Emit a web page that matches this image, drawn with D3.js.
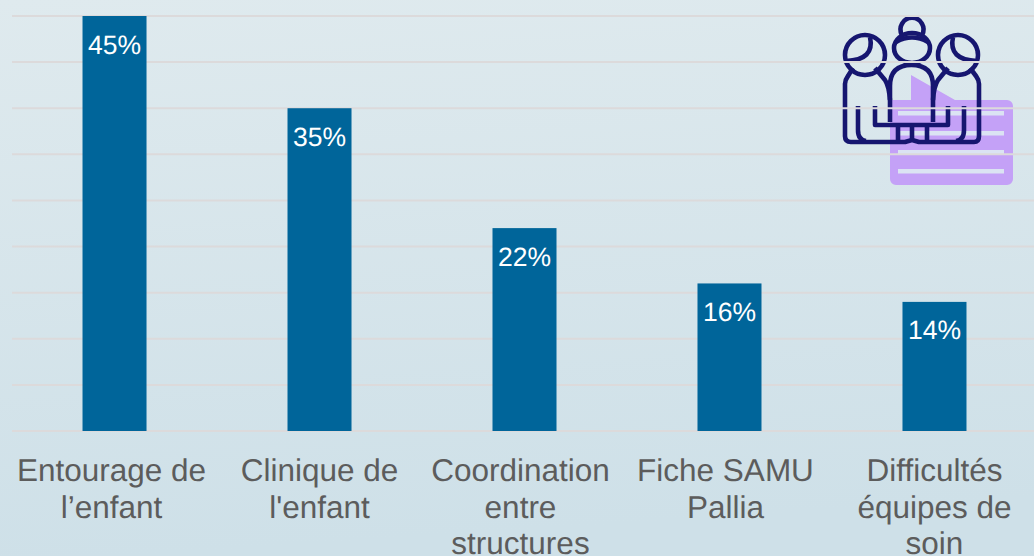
<!DOCTYPE html>
<html><head><meta charset="utf-8">
<script src="https://cdn.jsdelivr.net/npm/d3@7"></script>
<style>html,body{margin:0;padding:0;background:#d5e5eb}svg{display:block}text{font-family:"Liberation Sans",Arial,sans-serif;text-rendering:geometricPrecision}</style>
</head><body><svg id="c" width="1034" height="556"></svg>
<script>
const categories=[["Entourage de","l’enfant"],["Clinique de","l'enfant"],["Coordination","entre","structures"],["Fiche SAMU","Pallia"],["Difficultés","équipes de","soin"]];
const values=[45,35,22,16,14];
const gridTicks=[0,5,10,15,20,25,30,35,40,45];
const labelShift=[-3,0,-4,-4,0];
const svg=d3.select("#c");
const defs=svg.append("defs");
const g=defs.append("linearGradient").attr("id","bg").attr("x1",0).attr("y1",0).attr("x2",0.12).attr("y2",1);
g.append("stop").attr("offset",0).attr("stop-color","#dfeaee");
g.append("stop").attr("offset",1).attr("stop-color","#cee0e8");
defs.append("filter").attr("id","soft").append("feGaussianBlur").attr("stdDeviation",0.5);
svg.append("rect").attr("width",1034).attr("height",556).attr("fill","url(#bg)");
const x=d3.scaleBand().domain(d3.range(values.length)).range([12,1037]).paddingInner(0.6878).paddingOuter(0.344);
const y=d3.scaleLinear().domain([0,45]).range([431,16]);

// icon
const ic=svg.append("g").attr("filter","url(#soft)");
ic.append("path").attr("fill","#c4a1f7").attr("d","M896 100H1007a6 6 0 0 1 6 6V179a6 6 0 0 1-6 6H896a6 6 0 0 1-6-6V100ZM911 100V75L955 100Z");
ic.selectAll("rect.l").data([113,133,152,171]).join("rect").attr("x",898).attr("width",106).attr("y",d=>d-2).attr("height",4.5).attr("fill","#dbe3f3");
const n=ic.append("g").attr("fill","none").attr("stroke","#191970").attr("stroke-width",4.6).attr("stroke-linejoin","round").attr("stroke-linecap","butt");
n.append("circle").attr("cx",865).attr("cy",55).attr("r",20);
n.append("circle").attr("cx",958).attr("cy",55).attr("r",20);
n.append("ellipse").attr("cx",912).attr("cy",48).attr("rx",18).attr("ry",15);
n.append("path").attr("d","M902 35a11.5 11.5 0 1 1 20 0");
n.append("path").attr("d","M896 42Q912 33 928 42");
n.append("path").attr("d","M870 37Q875 60 846 61");
n.append("path").attr("d","M953 37Q948 60 977 61");
n.append("path").attr("d","M853 68L848 76Q845 80 845 84V136Q845 142 851 142H905L912 140L919 142H974Q979 142 979 136V84Q979 80 976 76L970 68");
n.append("path").attr("d","M875 68L885 80Q889 86 890 100");
n.append("path").attr("d","M948 68L938 80Q934 86 933 100");
n.append("path").attr("d","M890 122V86Q890 65 911.5 65Q933 65 933 86V122");
n.append("path").attr("d","M858 106V130Q858 140 866 141");
n.append("path").attr("d","M964 106V130Q964 140 956 141");
n.append("path").attr("d","M875 106V125H948V106");
n.append("path").attr("d","M898 125V142M912 125V140M927 125V142");

// grid
svg.append("g").selectAll("line").data(gridTicks).join("line")
 .attr("x1",12).attr("x2",1034).attr("y1",d=>y(d)).attr("y2",d=>y(d))
 .attr("stroke","#dcdadb").attr("stroke-width",2);

// bars
svg.append("g").selectAll("rect").data(values).join("rect")
 .attr("x",(d,i)=>x(i)).attr("width",x.bandwidth()).attr("y",d=>y(d)).attr("height",d=>y(0)-y(d)).attr("fill","#00659a");
svg.append("g").selectAll("text").data(values).join("text")
 .attr("x",(d,i)=>x(i)+x.bandwidth()/2).attr("y",d=>y(d)+37.5).attr("text-anchor","middle")
 .attr("font-size",26.5).attr("fill","#fff").text(d=>d+"%");

// labels
const lab=svg.append("g").selectAll("text").data(categories).join("text")
 .attr("text-anchor","middle").attr("font-size",31.5).attr("fill","#5c5c5c");
lab.each(function(lines,i){
  d3.select(this).selectAll("tspan").data(lines).join("tspan")
   .attr("x",x(i)+x.bandwidth()/2+labelShift[i]).attr("y",(d,j)=>481+j*36.5).text(d=>d);
});
</script></body></html>
